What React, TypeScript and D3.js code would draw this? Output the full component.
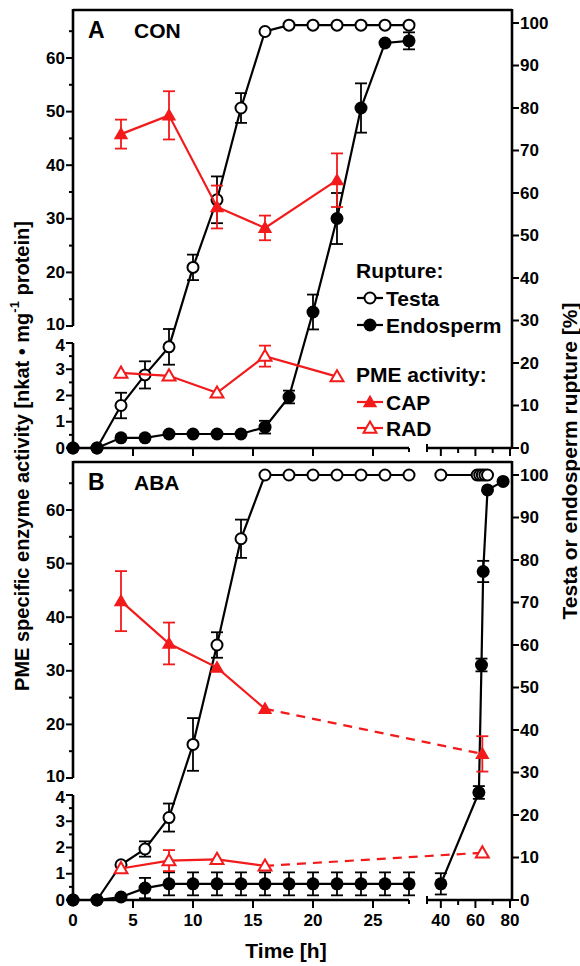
import React from "react";
import * as d3 from "d3";

// ---- data (hours, % rupture, PME activity) ----
const hoursA = [0, 2, 4, 6, 8, 10, 12, 14, 16, 18, 20, 22, 24, 26, 28];
const testaA = [0, 0, 10, 17.2, 23.8, 42.5, 58.4, 80, 98, 99.5, 99.5, 99.5, 99.5, 99.5, 99.5];
const testaAErr = [0, 0, 3, 3.2, 4.2, 3, 5.5, 3.5, 0, 0, 0, 0, 0, 0, 0];
const endoA = [0, 0, 2.4, 2.4, 3.3, 3.3, 3.3, 3.3, 4.9, 12, 32, 54, 80, 95.3, 95.8];
const endoAErr = [0, 0, 0, 0, 0, 0, 0, 0, 1.5, 1.5, 4.1, 6, 5.8, 0, 2];

const pmeHoursA = [4, 8, 12, 16, 22];
const capA = [45.8, 49.3, 32.2, 28.3, 37.2];
const capAErr = [2.7, 4.5, 4, 2.3, 5];
const radA = [2.86, 2.75, 2.1, 3.5, 2.72];
const radAErr = [0, 0, 0, 0.4, 0];

const testaHoursB = [0, 2, 4, 6, 8, 10, 12, 14, 16, 18, 20, 22, 24, 26, 28, 40, 61, 62.5, 64, 65.5, 67];
const testaB = [0, 0, 8.3, 12, 19.4, 36.6, 60, 85, 100, 100, 100, 100, 100, 100, 100, 100, 100, 100, 100, 100, 100];
const testaBErr = [0, 0, 0, 1.8, 3.3, 6.2, 3, 4.5, 0, 0, 0, 0, 0, 0, 0, 0, 0, 0, 0, 0, 0];
const endoHoursB = [0, 2, 4, 6, 8, 10, 12, 14, 16, 18, 20, 22, 24, 26, 28, 40, 62, 63.5, 64.5, 67, 76];
const endoB = [0, 0, 0.7, 2.8, 3.8, 3.8, 3.8, 3.8, 3.8, 3.8, 3.8, 3.8, 3.8, 3.8, 3.8, 3.8, 25.3, 55.3, 77.3, 96.5, 98.5];
const endoBErr = [0, 0, 0, 2.4, 2.7, 2.7, 2.7, 2.7, 2.7, 2.7, 2.7, 2.7, 2.7, 2.7, 2.7, 2.5, 1.5, 1.5, 2.5, 0, 0];

const pmeHoursB = [4, 8, 12, 16, 64];
const capB = [43, 35.1, 30.6, 22.9, 14.5];
const capBErr = [5.6, 3.9, 0, 0, 3.3];
const radB = [1.2, 1.5, 1.55, 1.3, 1.8];
const radBErr = [0, 0.4, 0, 0, 0];

const xTicksLeft = [0, 5, 10, 15, 20, 25];
const xTicksRight = [40, 60, 80];
const xMinorRight = [50, 70];
const pctTicks = [0, 10, 20, 30, 40, 50, 60, 70, 80, 90, 100];
const upperTicks = [10, 15, 20, 25, 30, 35, 40, 45, 50, 55, 60, 65];
const lowerTicks = [0, 0.5, 1, 1.5, 2, 2.5, 3, 3.5, 4];

const RED = "#f21a1a";
const FONT = "'Liberation Sans', Arial, Helvetica, sans-serif";

const xLeft = d3.scaleLinear().domain([0, 28]).range([73, 409]);
const xRight = d3.scaleLinear().domain([32, 80]).range([427, 510]);
const xPos = (t: number) => (t <= 30 ? xLeft(t) : xRight(t));

type Pt = { x: number; y: number; hi: number; lo: number; e: number };

function pts(times: number[], vals: number[], errs: number[], yf: (v: number) => number): Pt[] {
  return times.map((t, i) => ({
    x: xPos(t),
    y: yf(vals[i]),
    hi: yf(vals[i] + errs[i]),
    lo: yf(vals[i] - errs[i]),
    e: errs[i],
  }));
}

const line = d3
  .line<Pt>()
  .x((d) => d.x)
  .y((d) => d.y);

function ErrorBars({ data, color }: { data: Pt[]; color: string }) {
  return (
    <g stroke={color} strokeWidth={1.8}>
      {data
        .filter((d) => d.e > 0)
        .map((d, i) => (
          <g key={i}>
            <line x1={d.x} x2={d.x} y1={d.hi} y2={d.lo} />
            <line x1={d.x - 6} x2={d.x + 6} y1={d.hi} y2={d.hi} />
            <line x1={d.x - 6} x2={d.x + 6} y1={d.lo} y2={d.lo} />
          </g>
        ))}
    </g>
  );
}

const triPath = d3.symbol(d3.symbolTriangle, 90)() as string;
const triOpenPath = d3.symbol(d3.symbolTriangle, 72)() as string;

function Marker({ x, y, kind }: { x: number; y: number; kind: string }) {
  if (kind === "openCircle")
    return <circle cx={x} cy={y} r={5.5} fill="#fff" stroke="#000" strokeWidth={2} />;
  if (kind === "filledCircle") return <circle cx={x} cy={y} r={6.5} fill="#000" />;
  if (kind === "filledTri")
    return <path d={triPath} transform={`translate(${x},${y + 1})`} fill={RED} />;
  return (
    <path d={triOpenPath} transform={`translate(${x},${y + 1})`} fill="#fff" stroke={RED} strokeWidth={2} />
  );
}

function Series({
  data,
  segments,
  color,
  kind,
}: {
  data: Pt[];
  segments: [number, number, boolean][];
  color: string;
  kind: string;
}) {
  return (
    <g>
      {segments.map(([a, b, dash], i) => (
        <path
          key={i}
          d={line(data.slice(a, b)) || ""}
          fill="none"
          stroke={color}
          strokeWidth={2.2}
          strokeDasharray={dash ? "9,7" : undefined}
        />
      ))}
      <ErrorBars data={data} color={color} />
      {data.map((d, i) => (
        <Marker key={i} x={d.x} y={d.y} kind={kind} />
      ))}
    </g>
  );
}

function Panel({ dy, letter, treatment, showLabels }: { dy: number; letter: string; treatment: string; showLabels: boolean }) {
  const yPct = d3.scaleLinear().domain([0, 100]).range([448 + dy, 23 + dy]);
  const yUp = d3.scaleLinear().domain([10, 60]).range([326 + dy, 58 + dy]);
  const yLow = d3.scaleLinear().domain([0, 4]).range([448 + dy, 343 + dy]);
  const top = 10 + dy;
  const base = 448 + dy;
  const axisW = 2.6;

  let testa: Pt[], endo: Pt[], cap: Pt[], rad: Pt[];
  let testaSeg: [number, number, boolean][], endoSeg: [number, number, boolean][], pmeSeg: [number, number, boolean][];
  if (letter === "A") {
    testa = pts(hoursA, testaA, testaAErr, yPct);
    endo = pts(hoursA, endoA, endoAErr, yPct);
    cap = pts(pmeHoursA, capA, capAErr, yUp);
    rad = pts(pmeHoursA, radA, radAErr, yLow);
    testaSeg = [[0, 15, false]];
    endoSeg = [[0, 15, false]];
    pmeSeg = [[0, 5, false]];
  } else {
    testa = pts(testaHoursB, testaB, testaBErr, yPct);
    endo = pts(endoHoursB, endoB, endoBErr, yPct);
    cap = pts(pmeHoursB, capB, capBErr, yUp);
    rad = pts(pmeHoursB, radB, radBErr, yLow);
    testaSeg = [[0, 15, false], [15, 21, false]];
    endoSeg = [[0, 15, false], [15, 21, false]];
    pmeSeg = [[0, 4, false], [3, 5, true]];
  }

  // nudge the labels at the axis break apart a little
  const upperLabelY = (v: number) => yUp(v) - (v === 10 ? 2 : 0);
  const lowerLabelY = (v: number) => yLow(v) + (v === 4 ? 2 : 0);

  return (
    <g fontFamily={FONT} fontWeight="bold">
      {/* frame + axes */}
      <g stroke="#000" strokeWidth={axisW} fill="none">
        <line x1={73} x2={512} y1={top} y2={top} />
        <line x1={73} x2={73} y1={top - 1} y2={yUp(10)} />
        <line x1={73} x2={73} y1={yLow(4)} y2={base} />
        <line x1={512} x2={512} y1={top - 1} y2={base + 1} />
        <line x1={72} x2={xLeft(28)} y1={base} y2={base} />
        <line x1={xRight(32)} x2={512} y1={base} y2={base} />
      </g>
      {/* ticks */}
      <g stroke="#000" strokeWidth={2}>
        {upperTicks.map((v) => (
          <line key={"u" + v} x1={v % 10 === 0 ? 66 : 69} x2={73} y1={yUp(v)} y2={yUp(v)} />
        ))}
        {lowerTicks.map((v) => (
          <line key={"l" + v} x1={v % 1 === 0 ? 66 : 69} x2={73} y1={yLow(v)} y2={yLow(v)} />
        ))}
        {pctTicks.map((v) => (
          <line key={"p" + v} x1={512} x2={519} y1={yPct(v)} y2={yPct(v)} />
        ))}
        {xTicksLeft.slice(1).map((v) => (
          <line key={"x" + v} x1={xLeft(v)} x2={xLeft(v)} y1={base} y2={base + 8} />
        ))}
        <line x1={xLeft(28)} x2={xLeft(28)} y1={base} y2={base + 4} />
        <line x1={xRight(32)} x2={xRight(32)} y1={base - 4} y2={base + 4} />
        {xTicksRight.map((v) => (
          <line key={"r" + v} x1={xRight(v)} x2={xRight(v)} y1={base} y2={base + 8} />
        ))}
        {xMinorRight.map((v) => (
          <line key={"m" + v} x1={xRight(v)} x2={xRight(v)} y1={base} y2={base + 5} />
        ))}
      </g>
      <g fontSize={17} fill="#000">
        {upperTicks
          .filter((v) => v % 10 === 0)
          .map((v) => (
            <text key={"tu" + v} x={65} y={upperLabelY(v)} textAnchor="end" dominantBaseline="central">
              {v}
            </text>
          ))}
        {lowerTicks
          .filter((v) => v % 1 === 0)
          .map((v) => (
            <text key={"tl" + v} x={65} y={lowerLabelY(v)} textAnchor="end" dominantBaseline="central">
              {v}
            </text>
          ))}
        {pctTicks.map((v) => (
          <text key={"tp" + v} x={520} y={yPct(v)} dominantBaseline="central">
            {v}
          </text>
        ))}
        {showLabels &&
          xTicksLeft.map((v) => (
            <text key={"tx" + v} x={xLeft(v)} y={base + 26} textAnchor="middle">
              {v}
            </text>
          ))}
        {showLabels &&
          xTicksRight.map((v) => (
            <text key={"txr" + v} x={xRight(v)} y={base + 26} textAnchor="middle">
              {v}
            </text>
          ))}
      </g>
      <text x={88} y={top + 28} fontSize={23}>
        {letter}
      </text>
      <text x={134} y={top + 28} fontSize={21}>
        {treatment}
      </text>

      <Series data={testa} segments={testaSeg} color="#000" kind="openCircle" />
      <Series data={endo} segments={endoSeg} color="#000" kind="filledCircle" />
      <Series data={cap} segments={pmeSeg} color={RED} kind="filledTri" />
      <Series data={rad} segments={pmeSeg} color={RED} kind="openTri" />
    </g>
  );
}

function Legend() {
  const rows = [
    { y: 298, label: "Testa", kind: "openCircle", color: "#000" },
    { y: 325, label: "Endosperm", kind: "filledCircle", color: "#000" },
    { y: 402, label: "CAP", kind: "filledTri", color: RED },
    { y: 428, label: "RAD", kind: "openTri", color: RED },
  ];
  return (
    <g fontFamily={FONT} fontWeight="bold" fontSize={21}>
      <text x={356} y={278}>Rupture:</text>
      <text x={356} y={382}>PME activity:</text>
      {rows.map((r) => (
        <g key={r.label}>
          <line x1={357} x2={383} y1={r.y} y2={r.y} stroke={r.color} strokeWidth={2.2} />
          <Marker x={370} y={r.y} kind={r.kind} />
          <text x={386} y={r.y + 7.5}>
            {r.label}
          </text>
        </g>
      ))}
    </g>
  );
}

export default function App() {
  return (
    <svg
      width={580}
      height={966}
      style={{ position: "absolute", left: 0, top: 0, background: "#fff" }}
    >
      <Panel dy={0} letter="A" treatment="CON" showLabels={false} />
      <Panel dy={452} letter="B" treatment="ABA" showLabels={true} />
      <Legend />
      <g fontFamily={FONT} fontWeight="bold" fontSize={20}>
        <text transform="translate(22,456) rotate(-90)" textAnchor="middle" dominantBaseline="central">
          PME specific enzyme activity [nkat • mg
          <tspan fontSize={13} dy={-8}>
            -1
          </tspan>
          <tspan dy={8}> protein]</tspan>
        </text>
        <text transform="translate(569,461) rotate(-90)" textAnchor="middle" dominantBaseline="central" fontSize={21}>
          Testa or endosperm rupture [%]
        </text>
        <text x={286} y={958} textAnchor="middle" fontSize={21}>
          Time [h]
        </text>
      </g>
    </svg>
  );
}
